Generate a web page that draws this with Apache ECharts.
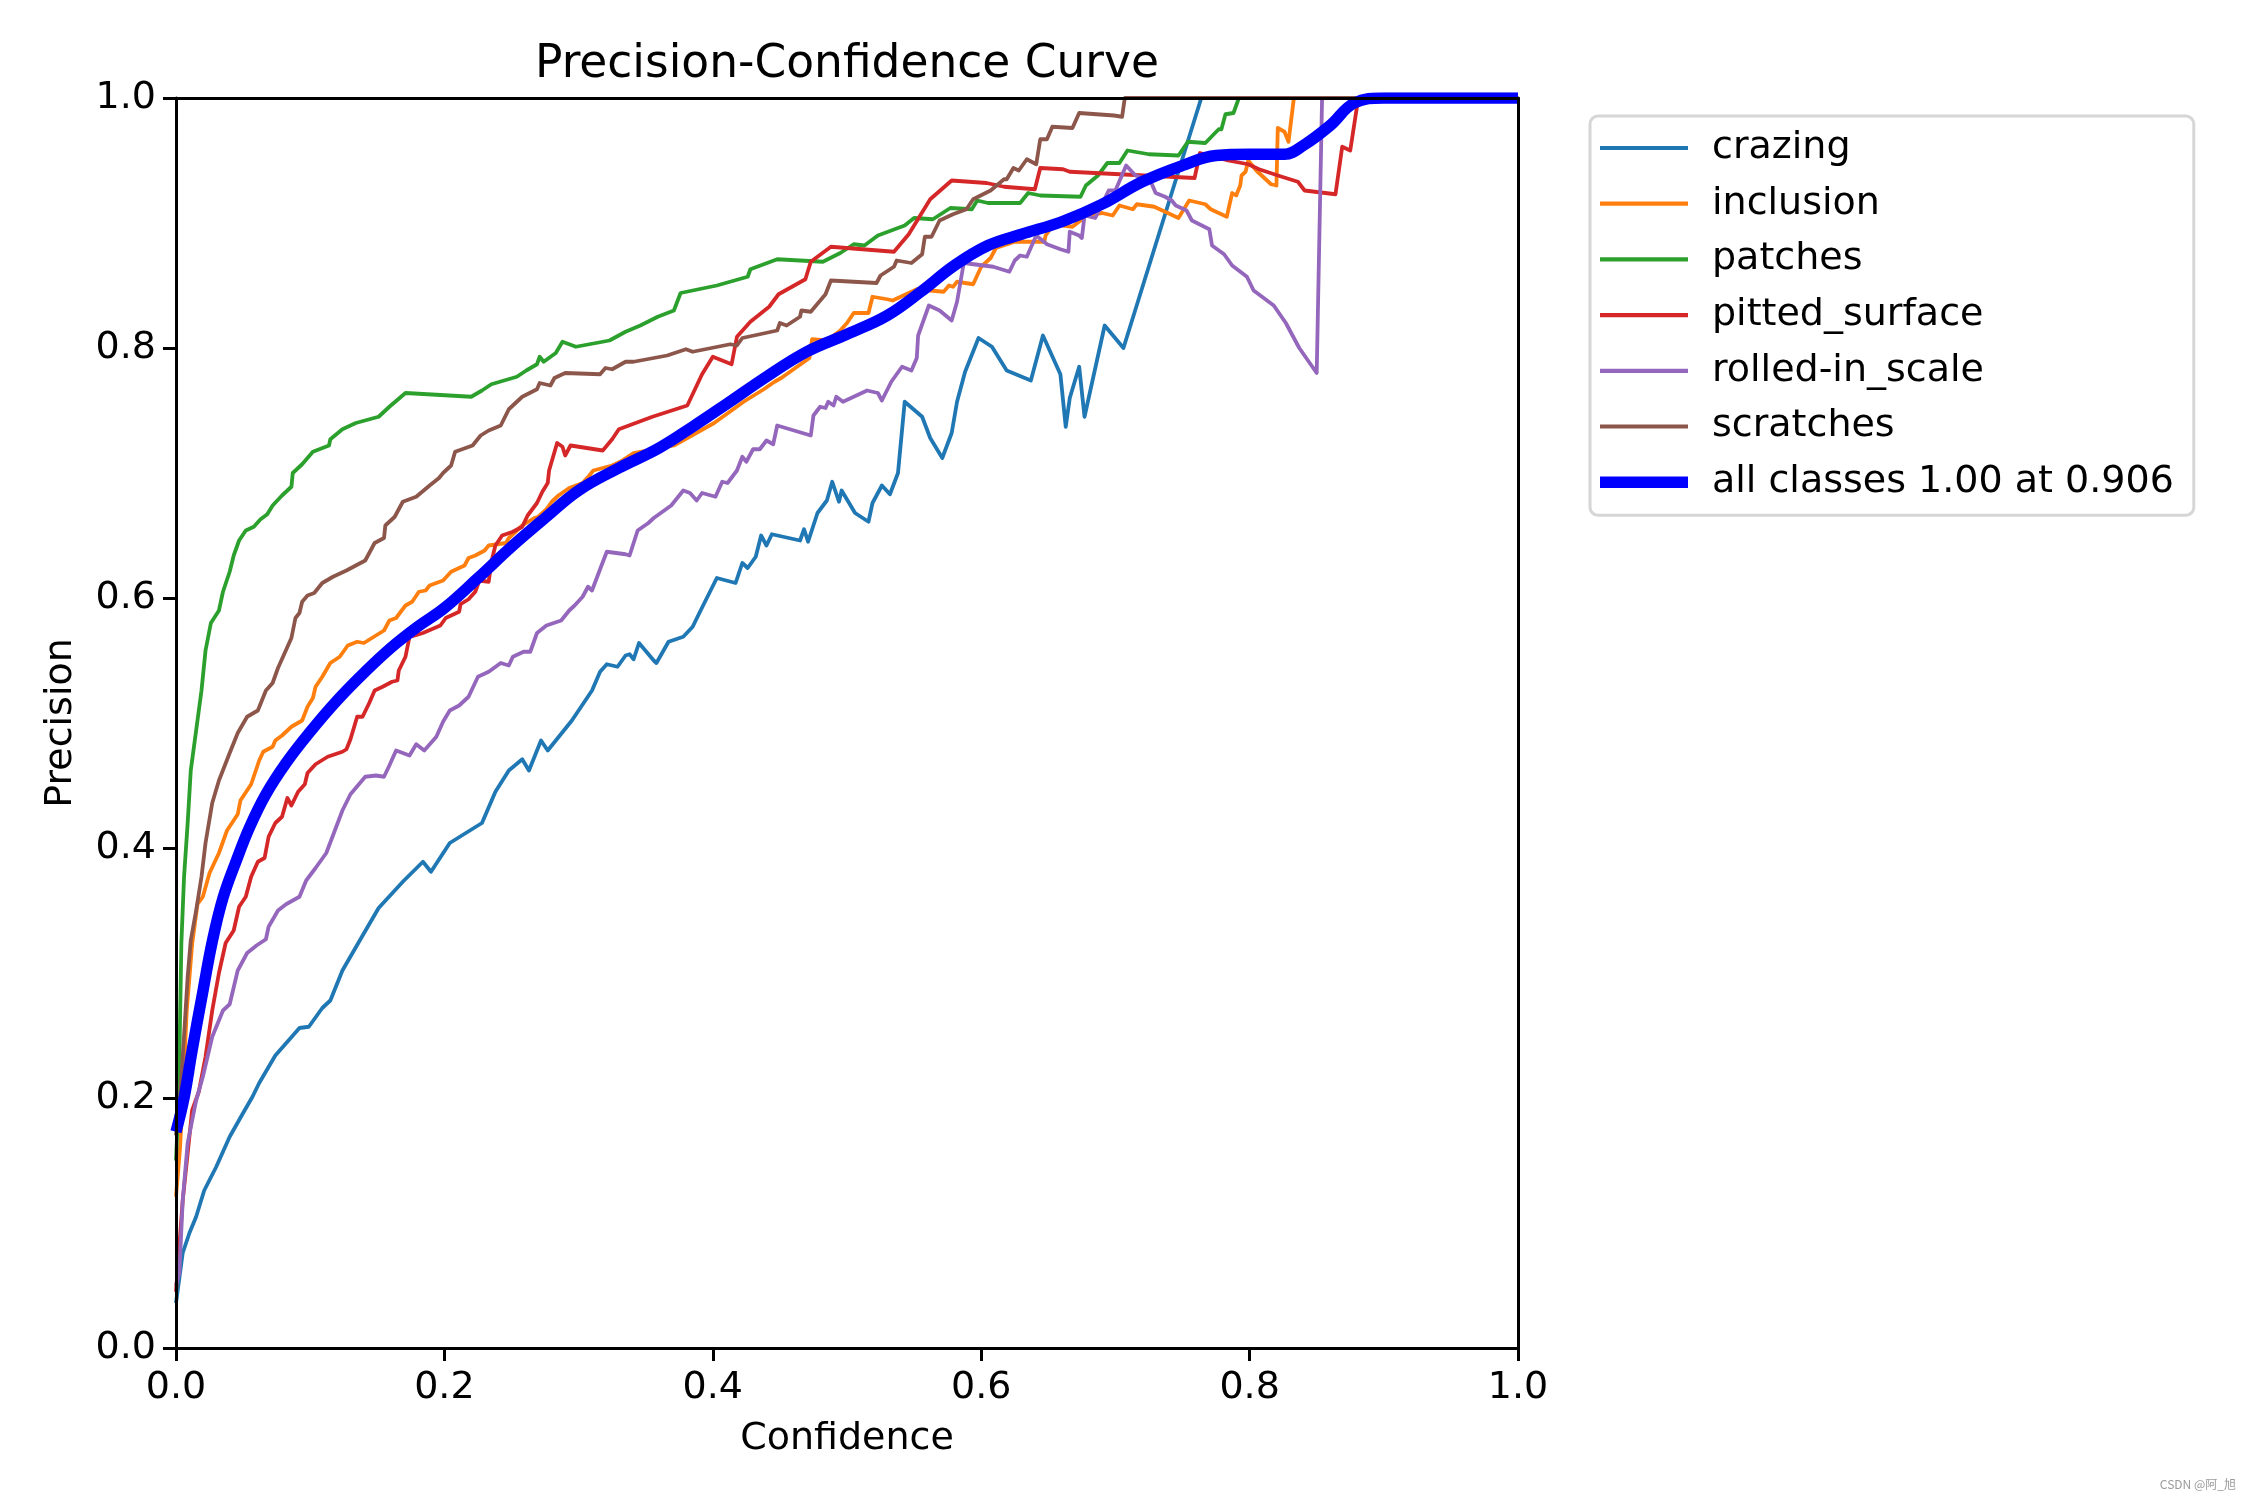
<!DOCTYPE html>
<html>
<head>
<meta charset="utf-8">
<script src="https://cdn.jsdelivr.net/npm/echarts@6/dist/echarts.min.js"></script>
<style>html,body{margin:0;padding:0;background:#fff}#c{width:2250px;height:1500px}</style>
</head>
<body>
<div id="c"></div>
<script>
// ---- data (confidence, precision) ----
const seriesNames = ['crazing', 'inclusion', 'patches', 'pitted_surface', 'rolled-in_scale', 'scratches', 'all classes 1.00 at 0.906'];
const seriesColors = ['#1f77b4', '#ff7f0e', '#2ca02c', '#d62728', '#9467bd', '#8c564b', '#0000ff'];
const xTicks = [0, 0.2, 0.4, 0.6, 0.8, 1.0];
const yTicks = [0, 0.2, 0.4, 0.6, 0.8, 1.0];

const crazing = [[0,.036],[.005,.076],[.01,.092],[.015,.105],[.021,.126],[.03,.145],[.04,.169],[.05,.188],[.057,.201],[.062,.212],[.074,.234],[.092,.256],[.099,.257],[.109,.272],[.115,.278],[.124,.302],[.138,.328],[.151,.352],[.169,.373],[.184,.389],[.19,.381],[.204,.404],[.213,.41],[.228,.42],[.238,.445],[.248,.462],[.258,.471],[.263,.462],[.272,.486],[.277,.478],[.295,.502],[.31,.526],[.316,.541],[.321,.547],[.329,.545],[.335,.554],[.338,.555],[.341,.551],[.345,.564],[.356,.55],[.358,.548],[.367,.565],[.378,.569],[.385,.577],[.39,.588],[.403,.616],[.417,.612],[.422,.628],[.426,.624],[.432,.633],[.436,.65],[.44,.642],[.444,.651],[.465,.646],[.468,.655],[.471,.645],[.478,.668],[.485,.678],[.489,.693],[.494,.677],[.496,.686],[.506,.668],[.516,.661],[.519,.676],[.526,.69],[.532,.683],[.538,.7],[.543,.757],[.556,.745],[.562,.728],[.571,.712],[.578,.732],[.582,.757],[.588,.781],[.598,.808],[.608,.801],[.619,.782],[.637,.774],[.646,.81],[.659,.779],[.663,.737],[.666,.76],[.673,.785],[.677,.745],[.692,.818],[.706,.8],[.764,1.0],[1,1]];

const inclusion = [[0,.121],[.003,.16],[.005,.2],[.008,.27],[.012,.323],[.016,.355],[.02,.361],[.025,.38],[.032,.396],[.038,.414],[.046,.427],[.048,.438],[.056,.451],[.062,.47],[.065,.477],[.072,.481],[.074,.486],[.079,.49],[.086,.497],[.094,.502],[.098,.513],[.102,.52],[.104,.529],[.109,.537],[.115,.548],[.122,.553],[.128,.562],[.135,.565],[.14,.564],[.149,.57],[.155,.574],[.159,.582],[.164,.584],[.171,.594],[.176,.597],[.181,.605],[.186,.606],[.189,.61],[.199,.614],[.205,.621],[.215,.626],[.218,.632],[.223,.634],[.23,.638],[.233,.642],[.246,.644],[.248,.648],[.253,.653],[.258,.658],[.267,.664],[.27,.665],[.276,.671],[.28,.677],[.285,.682],[.293,.688],[.303,.692],[.308,.698],[.311,.702],[.318,.704],[.325,.706],[.331,.709],[.341,.716],[.346,.717],[.371,.722],[.391,.734],[.401,.74],[.423,.757],[.438,.767],[.446,.773],[.451,.776],[.472,.792],[.474,.807],[.485,.806],[.495,.814],[.5,.82],[.505,.828],[.516,.828],[.519,.841],[.53,.839],[.534,.838],[.552,.847],[.562,.846],[.572,.845],[.576,.85],[.579,.849],[.582,.853],[.594,.851],[.6,.865],[.607,.872],[.611,.88],[.625,.885],[.647,.885],[.648,.89],[.654,.899],[.668,.897],[.674,.902],[.677,.906],[.69,.908],[.698,.906],[.703,.914],[.713,.911],[.716,.915],[.729,.913],[.747,.904],[.755,.918],[.767,.915],[.771,.911],[.783,.905],[.787,.924],[.79,.922],[.793,.93],[.794,.938],[.797,.941],[.799,.95],[.805,.942],[.816,.931],[.82,.93],[.821,.976],[.826,.973],[.829,.965],[.833,1.0],[1,1]];

const patches = [[0,.15],[.002,.2],[.004,.324],[.006,.377],[.0087,.42],[.011,.462],[.015,.494],[.019,.526],[.022,.558],[.026,.58],[.032,.59],[.035,.605],[.04,.621],[.043,.634],[.047,.646],[.052,.654],[.058,.657],[.063,.663],[.068,.667],[.072,.674],[.079,.682],[.086,.689],[.087,.7],[.094,.707],[.102,.717],[.114,.722],[.115,.727],[.124,.735],[.134,.74],[.151,.745],[.159,.753],[.171,.764],[.22,.761],[.228,.766],[.235,.771],[.254,.777],[.261,.782],[.269,.787],[.271,.793],[.274,.789],[.283,.796],[.288,.805],[.298,.801],[.323,.806],[.335,.813],[.346,.818],[.359,.825],[.371,.83],[.376,.844],[.403,.85],[.426,.857],[.428,.863],[.448,.871],[.482,.869],[.495,.876],[.505,.883],[.513,.882],[.523,.89],[.543,.898],[.55,.904],[.564,.903],[.577,.912],[.593,.911],[.597,.918],[.605,.916],[.629,.916],[.635,.924],[.644,.922],[.674,.921],[.678,.93],[.687,.938],[.694,.948],[.703,.948],[.709,.958],[.725,.955],[.747,.954],[.754,.965],[.767,.964],[.777,.975],[.779,.975],[.782,.987],[.788,.988],[.792,1.0],[1,1]];

const pittedSurface = [[0,.045],[.005,.118],[.0087,.156],[.012,.19],[.017,.205],[.022,.233],[.027,.27],[.032,.3],[.037,.324],[.043,.334],[.047,.353],[.052,.361],[.056,.377],[.061,.389],[.066,.392],[.069,.409],[.074,.42],[.079,.425],[.083,.44],[.086,.434],[.091,.445],[.096,.451],[.098,.46],[.104,.467],[.113,.473],[.124,.477],[.127,.479],[.13,.487],[.135,.505],[.139,.505],[.144,.516],[.148,.526],[.154,.529],[.161,.533],[.165,.534],[.166,.542],[.171,.553],[.174,.569],[.178,.57],[.184,.572],[.197,.578],[.201,.584],[.211,.589],[.212,.595],[.218,.599],[.223,.605],[.226,.614],[.233,.613],[.235,.629],[.238,.642],[.243,.65],[.251,.653],[.258,.657],[.262,.666],[.269,.676],[.273,.685],[.277,.692],[.278,.702],[.284,.724],[.288,.721],[.29,.714],[.294,.722],[.318,.718],[.325,.727],[.33,.735],[.355,.745],[.381,.754],[.392,.779],[.4,.793],[.414,.787],[.418,.809],[.428,.821],[.442,.833],[.449,.843],[.469,.855],[.473,.869],[.488,.881],[.535,.877],[.546,.891],[.562,.919],[.578,.934],[.604,.932],[.617,.929],[.64,.927],[.644,.944],[.661,.943],[.666,.941],[.759,.936],[.763,.956],[.784,.95],[.799,.947],[.807,.943],[.824,.937],[.836,.933],[.841,.926],[.864,.923],[.869,.961],[.875,.958],[.881,1.0],[1,1]];

const rolledInScale = [[0,.05],[.0025,.06],[.005,.118],[.0087,.164],[.015,.198],[.02,.217],[.027,.249],[.035,.27],[.04,.275],[.046,.302],[.053,.316],[.06,.322],[.067,.327],[.069,.337],[.076,.35],[.082,.355],[.092,.361],[.097,.374],[.104,.384],[.112,.396],[.118,.413],[.124,.43],[.13,.443],[.141,.457],[.149,.458],[.155,.457],[.159,.466],[.164,.478],[.174,.474],[.179,.483],[.185,.478],[.194,.489],[.199,.501],[.204,.51],[.211,.514],[.218,.521],[.225,.537],[.233,.541],[.242,.548],[.248,.546],[.251,.553],[.259,.557],[.264,.557],[.269,.572],[.276,.578],[.287,.582],[.293,.59],[.297,.594],[.303,.601],[.307,.609],[.31,.606],[.316,.623],[.321,.637],[.335,.635],[.338,.634],[.344,.654],[.352,.66],[.356,.664],[.369,.674],[.378,.686],[.383,.684],[.388,.678],[.392,.684],[.402,.681],[.407,.693],[.411,.692],[.418,.702],[.422,.713],[.425,.709],[.43,.719],[.435,.719],[.44,.726],[.445,.723],[.448,.738],[.473,.73],[.475,.746],[.48,.753],[.484,.752],[.486,.757],[.49,.754],[.492,.761],[.497,.757],[.515,.766],[.523,.764],[.526,.758],[.533,.773],[.541,.785],[.548,.782],[.552,.792],[.553,.81],[.561,.834],[.569,.83],[.578,.822],[.582,.837],[.587,.868],[.609,.865],[.621,.861],[.625,.87],[.629,.874],[.634,.873],[.641,.89],[.649,.883],[.659,.879],[.665,.877],[.666,.893],[.673,.89],[.675,.888],[.677,.906],[.685,.904],[.695,.926],[.7,.926],[.708,.946],[.715,.938],[.726,.934],[.73,.924],[.737,.921],[.742,.918],[.745,.914],[.753,.91],[.757,.902],[.77,.895],[.772,.882],[.781,.875],[.787,.866],[.798,.857],[.803,.846],[.818,.834],[.827,.82],[.837,.8],[.85,.78],[.854,1.0],[1,1]];

const scratches = [[0,.17],[.003,.2],[.006,.25],[.0087,.297],[.011,.326],[.015,.35],[.019,.377],[.022,.404],[.027,.436],[.032,.454],[.04,.476],[.046,.492],[.053,.505],[.061,.51],[.067,.526],[.072,.532],[.076,.544],[.081,.556],[.086,.568],[.089,.584],[.092,.588],[.094,.597],[.098,.602],[.103,.604],[.109,.612],[.117,.617],[.123,.62],[.127,.622],[.134,.626],[.141,.63],[.148,.644],[.155,.648],[.156,.658],[.163,.665],[.169,.677],[.179,.681],[.189,.69],[.196,.696],[.199,.7],[.205,.706],[.208,.717],[.221,.722],[.227,.73],[.233,.734],[.242,.738],[.248,.751],[.258,.761],[.269,.767],[.271,.772],[.279,.77],[.282,.776],[.29,.78],[.316,.779],[.32,.784],[.325,.783],[.335,.789],[.341,.789],[.366,.794],[.38,.799],[.385,.797],[.413,.803],[.418,.802],[.422,.808],[.448,.814],[.45,.82],[.455,.818],[.465,.825],[.466,.83],[.473,.829],[.484,.843],[.488,.854],[.522,.852],[.525,.858],[.535,.865],[.537,.87],[.548,.868],[.556,.875],[.558,.889],[.563,.889],[.569,.902],[.579,.907],[.589,.911],[.594,.919],[.607,.926],[.617,.935],[.619,.935],[.624,.944],[.628,.942],[.634,.951],[.641,.947],[.644,.967],[.649,.967],[.653,.977],[.668,.976],[.673,.988],[.699,.986],[.705,.985],[.707,1.0],[1,1]];

const allClasses = [[0,.173],[.006,.2],[.012,.238],[.02,.285],[.027,.325],[.035,.36],[.045,.39],[.055,.417],[.067,.443],[.082,.468],[.1,.493],[.12,.518],[.14,.54],[.16,.56],[.18,.577],[.2,.592],[.225,.616],[.25,.641],[.275,.664],[.3,.686],[.33,.704],[.36,.72],[.385,.737],[.41,.755],[.44,.777],[.47,.797],[.5,.811],[.53,.826],[.555,.845],[.58,.866],[.605,.882],[.63,.891],[.66,.901],[.69,.915],[.72,.933],[.75,.946],[.775,.954],[.8,.955],[.826,.955],[.84,.962],[.86,.978],[.878,.996],[.9,1.0],[1,1]];

const seriesData = [crazing, inclusion, patches, pittedSurface, rolledInScale, scratches, allClasses];

// ---- chart ----
const FONT = 'DejaVu Sans';
const chart = echarts.init(document.getElementById('c'), null, {renderer: 'canvas', width: 2250, height: 1500});

const thinIcon = 'path://M0,0L80,0L80,3.8L0,3.8Z';
const thickIcon = 'path://M0,0L87,0L87,11.4L0,11.4Z';

const series = seriesData.map((d, i) => {
  const last = i === seriesData.length - 1;
  return {
    type: 'line',
    name: seriesNames[i],
    data: d,
    color: seriesColors[i],
    symbol: 'none',
    showSymbol: false,
    clip: true,
    silent: true,
    smooth: last ? 0.4 : false,
    lineStyle: {color: seriesColors[i], width: last ? 11.4 : 3.8, join: 'round'},
    itemStyle: {color: seriesColors[i]},
    emphasis: {disabled: true},
    z: 2 + i
  };
});

const spine = {show: true, onZero: false, lineStyle: {color: '#000', width: 3}};
const tickLabel = {fontSize: 38, fontFamily: FONT, color: '#000', formatter: v => v.toFixed(1)};

const option = {
  animation: false,
  backgroundColor: '#ffffff',
  title: {
    text: 'Precision-Confidence Curve',
    left: 847,
    textAlign: 'center',
    top: 42,
    padding: 0,
    textStyle: {fontSize: 45.5, fontWeight: 'normal', fontFamily: FONT, color: '#000'}
  },
  grid: {left: 176, top: 98, width: 1342, height: 1250, containLabel: false, show: false},
  xAxis: [
    {
      type: 'value', min: 0, max: 1, interval: 0.2, position: 'bottom', z: 20,
      axisLine: spine,
      axisTick: {show: true, length: 13, lineStyle: {color: '#000', width: 3}},
      axisLabel: Object.assign({margin: 21}, tickLabel),
      splitLine: {show: false},
      name: 'Confidence', nameLocation: 'middle', nameGap: 72,
      nameTextStyle: {fontSize: 38, fontFamily: FONT, color: '#000'}
    },
    {
      type: 'value', min: 0, max: 1, position: 'top', z: 20,
      axisLine: spine, axisTick: {show: false}, axisLabel: {show: false}, splitLine: {show: false}
    }
  ],
  yAxis: [
    {
      type: 'value', min: 0, max: 1, interval: 0.2, position: 'left', z: 20,
      axisLine: spine,
      axisTick: {show: true, length: 13, lineStyle: {color: '#000', width: 3}},
      axisLabel: Object.assign({margin: 20}, tickLabel),
      splitLine: {show: false},
      name: 'Precision', nameLocation: 'middle', nameGap: 96,
      nameTextStyle: {fontSize: 38, fontFamily: FONT, color: '#000'}
    },
    {
      type: 'value', min: 0, max: 1, position: 'right', z: 20,
      axisLine: spine, axisTick: {show: false}, axisLabel: {show: false}, splitLine: {show: false}
    }
  ],
  legend: {
    orient: 'vertical',
    left: 1590,
    top: 116,
    padding: [11, 20, 12, 10],
    itemWidth: 88,
    itemHeight: 14,
    itemGap: 13.7,
    selectedMode: false,
    backgroundColor: '#ffffff',
    borderColor: '#d6d6d6',
    borderWidth: 3,
    borderRadius: 8,
    itemStyle: {borderWidth: 0},
    textStyle: {fontSize: 38, fontFamily: FONT, color: '#000', lineHeight: 42, padding: [0, 0, 0, 19]},
    data: seriesNames.map((n, i) => ({name: n, icon: i === seriesNames.length - 1 ? thickIcon : thinIcon}))
  },
  graphic: [
    {
      type: 'text', right: 14, bottom: 10,
      style: {text: 'CSDN @阿_旭', fontSize: 12, fontFamily: '"Noto Sans CJK SC", "DejaVu Sans"', fill: '#9a9a9a'}
    }
  ],
  series: series
};

chart.setOption(option);
</script>
</body>
</html>
